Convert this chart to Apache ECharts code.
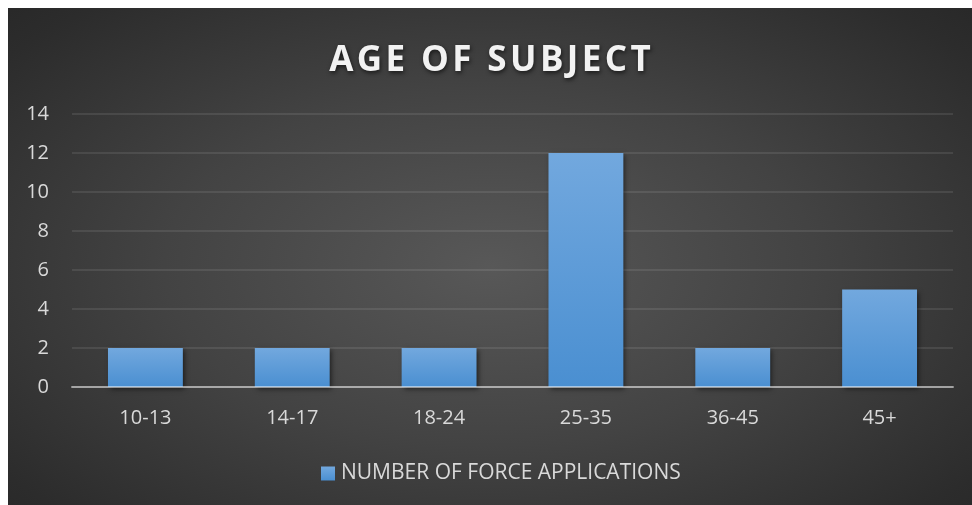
<!DOCTYPE html>
<html>
<head>
<meta charset="utf-8">
<script src="https://cdn.jsdelivr.net/npm/echarts@6/dist/echarts.min.js"></script>
<style>
  html, body { margin: 0; padding: 0; background: #ffffff; }
  #chart {
    position: absolute; left: 8px; top: 8px; width: 964px; height: 497px;
    background: radial-gradient(ellipse 75% 80% at 50% 52%, #585858 0%, #434343 45%, #2c2c2c 85%, #262626 100%);
  }
</style>
</head>
<body>
<div id="chart"></div>
<script>
// Age buckets and counts of force applications
const categories = ['10-13', '14-17', '18-24', '25-35', '36-45', '45+'];
const forceApplications = [2, 2, 2, 12, 2, 5];
const seriesName = 'NUMBER OF FORCE APPLICATIONS';
const chartTitle = 'AGE OF SUBJECT';

const labelFont = '"Open Sans", "DejaVu Sans", sans-serif';

// Spaced-out title: every character becomes its own rich-text token with side padding
const spacedTitle = chartTitle.split('').map(ch => '{c|' + ch + '}').join('');

const chart = echarts.init(document.getElementById('chart'), null, { renderer: 'canvas' });

chart.setOption({
  backgroundColor: 'transparent',
  animation: false,
  title: {
    text: spacedTitle,
    left: 'center',
    top: 31,
    textStyle: {
      color: '#f2f2f2',
      fontFamily: labelFont,
      fontWeight: 'bold',
      fontSize: 35,
      rich: {
        c: {
          color: '#f2f2f2',
          fontFamily: labelFont,
          fontWeight: 'bold',
          fontSize: 35,
          padding: [0, 1.7, 0, 1.7],
          textShadowColor: 'rgba(0,0,0,0.6)',
          textShadowBlur: 4,
          textShadowOffsetX: 1,
          textShadowOffsetY: 2
        }
      }
    }
  },
  legend: {
    bottom: 21,
    left: 313,
    padding: 0,
    itemWidth: 14,
    itemHeight: 14,
    icon: 'rect',
    textStyle: { color: '#d9d9d9', fontFamily: labelFont, fontSize: 21, padding: [0, 0, 0, 1] },
    data: [seriesName]
  },
  grid: { left: 64, right: 19, top: 106, bottom: 118, containLabel: false },
  xAxis: {
    type: 'category',
    data: categories,
    z: 5,
    axisLine: { lineStyle: { color: 'rgba(255,255,255,0.5)', width: 2 } },
    axisTick: { show: false },
    axisLabel: { color: '#d9d9d9', fontFamily: labelFont, fontSize: 20, margin: 21 },
    splitLine: { show: false }
  },
  yAxis: {
    type: 'value',
    min: 0,
    max: 14,
    interval: 2,
    axisLine: { show: false },
    axisTick: { show: false },
    axisLabel: { color: '#d9d9d9', fontFamily: labelFont, fontSize: 20, margin: 23 },
    splitLine: { lineStyle: { color: 'rgba(255,255,255,0.09)', width: 2 } }
  },
  series: [{
    name: seriesName,
    type: 'bar',
    data: forceApplications,
    barWidth: '51%',
    itemStyle: {
      color: new echarts.graphic.LinearGradient(0, 0, 0, 1, [
        { offset: 0, color: '#72a8de' },
        { offset: 1, color: '#4a8fd1' }
      ]),
      shadowColor: 'rgba(0,0,0,0.55)',
      shadowBlur: 5,
      shadowOffsetX: 2,
      shadowOffsetY: 2
    }
  }]
});
</script>
</body>
</html>
